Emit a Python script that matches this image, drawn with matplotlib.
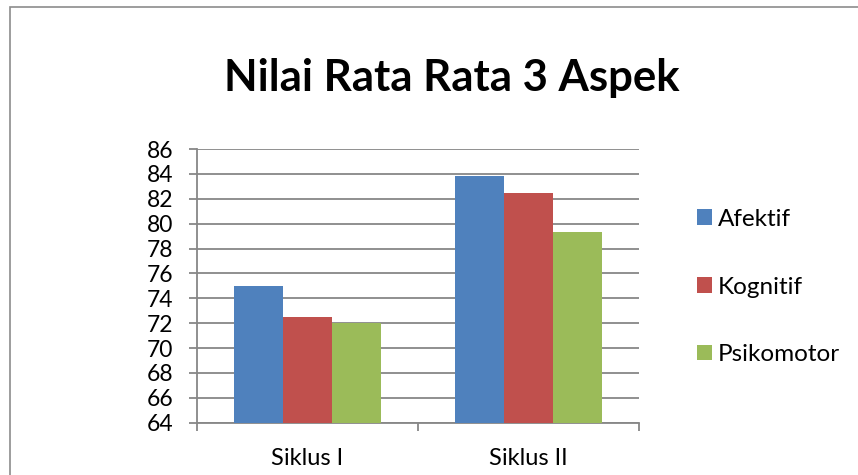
import matplotlib.pyplot as plt
import numpy as np
from matplotlib.patches import Rectangle

# Data
categories = ["Siklus I", "Siklus II"]
series = ["Afektif", "Kognitif", "Psikomotor"]
afektif = [75.0, 83.8]
kognitif = [72.5, 82.5]
psikomotor = [72.0, 79.3]
y_ticks = list(range(64, 87, 2))

colors = ["#4F81BD", "#C0504D", "#9BBB59"]
grid_col = "#878787"

plt.rcParams['font.family'] = ['Lato', 'DejaVu Sans']

fig = plt.figure(figsize=(8.58, 4.75), dpi=100)

# outer chart frame (extends past right/bottom edge like the screenshot)
fig.patches.append(Rectangle((10 / 858, -0.1), 1.2, 1 - 7 / 475 + 0.1,
                             transform=fig.transFigure, fill=False,
                             edgecolor="#8c8c8c", linewidth=1.2))

ax = fig.add_axes([197 / 858, 1 - 422.7 / 475, 442 / 858, 273.7 / 475])

x = np.arange(len(categories))
group = 0.665
w = group / 3
for i, (name, vals) in enumerate(zip(series, [afektif, kognitif, psikomotor])):
    ax.bar(x - group / 2 + w * (i + 0.5), np.array(vals) - 64, width=w, bottom=64,
           color=colors[i], label=name, zorder=3, edgecolor="none")

ax.set_ylim(64, 86)
ax.set_xlim(-0.5, 1.5)
ax.set_yticks(y_ticks)
ax.set_yticklabels([str(v) for v in y_ticks], fontsize=16.5)
ax.yaxis.grid(True, color=grid_col, linewidth=1.3, zorder=0)
ax.set_axisbelow(True)

ax.set_xticks(x)
ax.set_xticklabels(categories, fontsize=17)
ax.set_xticks([-0.5, 0.5, 1.5], minor=True)
ax.tick_params(axis='x', which='major', length=0, pad=18)
ax.tick_params(axis='x', which='minor', length=6, color=grid_col, width=1.3)
ax.tick_params(axis='y', length=6, color=grid_col, width=1.3, pad=11)

for s in ["top", "right"]:
    ax.spines[s].set_visible(False)
for s in ["left", "bottom"]:
    ax.spines[s].set_color(grid_col)
    ax.spines[s].set_linewidth(1.3)

fig.text(452 / 858, 1 - 78 / 475, "Nilai Rata Rata 3 Aspek", ha="center", va="center",
         fontsize=31.5, fontweight="bold")

fig.legend(loc="center left", bbox_to_anchor=(675 / 858, 1 - 287 / 475), frameon=False,
           fontsize=17.5, handlelength=0.62, handleheight=0.62, handletextpad=0.25,
           labelspacing=1.92)

fig.savefig("out.png", dpi=100)
